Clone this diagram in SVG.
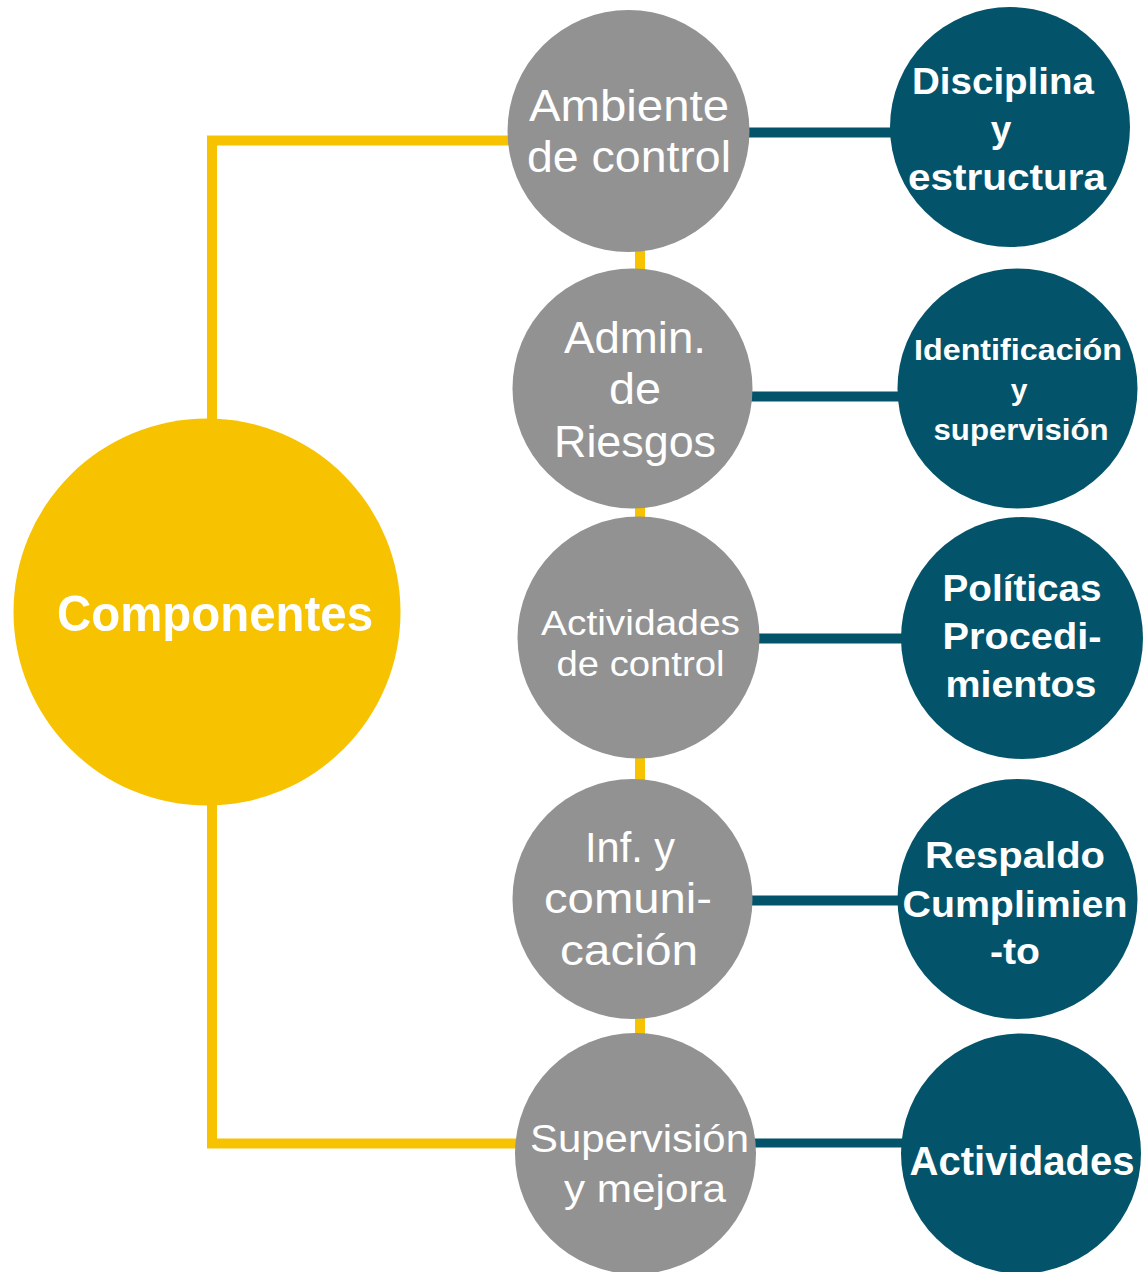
<svg xmlns="http://www.w3.org/2000/svg" width="1143" height="1272" viewBox="0 0 1143 1272">
<style>
.yl{fill:none;stroke:#F7C300;stroke-width:10;stroke-linejoin:miter;stroke-linecap:butt}
.tl{fill:none;stroke:#03546A;stroke-width:10}
.main{fill:#F7C300}
.gray{fill:#929292}
.teal{fill:#03546A}
.gt{fill:#fff;font-family:"Liberation Sans",Arial,sans-serif;font-weight:normal;text-anchor:middle}
.tt{fill:#fff;font-family:"Liberation Sans",Arial,sans-serif;font-weight:bold;text-anchor:middle}
</style>
<rect width="1143" height="1272" fill="#fff"/>
<g id="connectors">
<path class="yl" d="M580,140.5 H212 V612"/>
<path class="yl" d="M212,612 V1143.5 H600"/>
<path class="yl" d="M640,131 V1153"/>
<path class="tl" d="M700,132.5 H950"/>
<path class="tl" d="M700,396.5 H950"/>
<path class="tl" d="M700,638.5 H950"/>
<path class="tl" d="M700,900.5 H950"/>
<path class="tl" d="M700,1143 H950" style="stroke-width:9"/>
</g>
<g id="componentes">
<circle class="main" cx="207" cy="612" r="193.5"/>
<text class="tt" x="215" y="631" font-size="50" textLength="316" lengthAdjust="spacingAndGlyphs">Componentes</text>
</g>
<g id="ambiente">
<circle class="gray" cx="628.5" cy="131" r="121"/>
<text class="gt" x="629" y="121" font-size="44" textLength="200" lengthAdjust="spacingAndGlyphs">Ambiente</text>
<text class="gt" x="629" y="172" font-size="44" textLength="204" lengthAdjust="spacingAndGlyphs">de control</text>
</g>
<g id="admin">
<circle class="gray" cx="632.5" cy="388.5" r="120"/>
<text class="gt" x="635" y="353" font-size="44" textLength="142" lengthAdjust="spacingAndGlyphs">Admin.</text>
<text class="gt" x="635" y="404" font-size="44" textLength="52" lengthAdjust="spacingAndGlyphs">de</text>
<text class="gt" x="635" y="457" font-size="44" textLength="162" lengthAdjust="spacingAndGlyphs">Riesgos</text>
</g>
<g id="actividades-control">
<circle class="gray" cx="638.5" cy="637.5" r="121"/>
<text class="gt" x="640.5" y="635" font-size="35" textLength="199" lengthAdjust="spacingAndGlyphs">Actividades</text>
<text class="gt" x="640.5" y="676" font-size="35" textLength="168" lengthAdjust="spacingAndGlyphs">de control</text>
</g>
<g id="informacion">
<circle class="gray" cx="632.5" cy="899" r="120"/>
<text class="gt" x="630" y="862" font-size="43" textLength="90" lengthAdjust="spacingAndGlyphs">Inf. y</text>
<text class="gt" x="628" y="913" font-size="43" textLength="168" lengthAdjust="spacingAndGlyphs">comuni-</text>
<text class="gt" x="629" y="965" font-size="43" textLength="138" lengthAdjust="spacingAndGlyphs">cación</text>
</g>
<g id="supervision">
<circle class="gray" cx="635.5" cy="1153.5" r="120.5"/>
<text class="gt" x="639.5" y="1152" font-size="38" textLength="219" lengthAdjust="spacingAndGlyphs">Supervisión</text>
<text class="gt" x="645" y="1202" font-size="38" textLength="162" lengthAdjust="spacingAndGlyphs">y mejora</text>
</g>
<g id="disciplina">
<circle class="teal" cx="1010" cy="127" r="120"/>
<text class="tt" x="1003" y="94" font-size="37" textLength="182" lengthAdjust="spacingAndGlyphs">Disciplina</text>
<text class="tt" x="1001" y="142" font-size="37">y</text>
<text class="tt" x="1007" y="190" font-size="37" textLength="198" lengthAdjust="spacingAndGlyphs">estructura</text>
</g>
<g id="identificacion">
<circle class="teal" cx="1017.5" cy="388.5" r="120"/>
<text class="tt" x="1018" y="360" font-size="30" textLength="208" lengthAdjust="spacingAndGlyphs">Identificación</text>
<text class="tt" x="1019" y="400" font-size="30">y</text>
<text class="tt" x="1021" y="440" font-size="30" textLength="175" lengthAdjust="spacingAndGlyphs">supervisión</text>
</g>
<g id="politicas">
<circle class="teal" cx="1022" cy="638" r="121"/>
<text class="tt" x="1022" y="601" font-size="37" textLength="159" lengthAdjust="spacingAndGlyphs">Políticas</text>
<text class="tt" x="1022" y="649" font-size="37" textLength="159" lengthAdjust="spacingAndGlyphs">Procedi-</text>
<text class="tt" x="1021" y="697" font-size="37" textLength="151" lengthAdjust="spacingAndGlyphs">mientos</text>
</g>
<g id="respaldo">
<circle class="teal" cx="1017.5" cy="899" r="120"/>
<text class="tt" x="1015" y="868" font-size="37" textLength="180" lengthAdjust="spacingAndGlyphs">Respaldo</text>
<text class="tt" x="1015" y="917" font-size="37" textLength="225" lengthAdjust="spacingAndGlyphs">Cumplimien</text>
<text class="tt" x="1015" y="964" font-size="37" textLength="50" lengthAdjust="spacingAndGlyphs">-to</text>
</g>
<g id="actividades">
<circle class="teal" cx="1021" cy="1153.5" r="120"/>
<text class="tt" x="1022" y="1175" font-size="40" textLength="225" lengthAdjust="spacingAndGlyphs">Actividades</text>
</g>
</svg>
